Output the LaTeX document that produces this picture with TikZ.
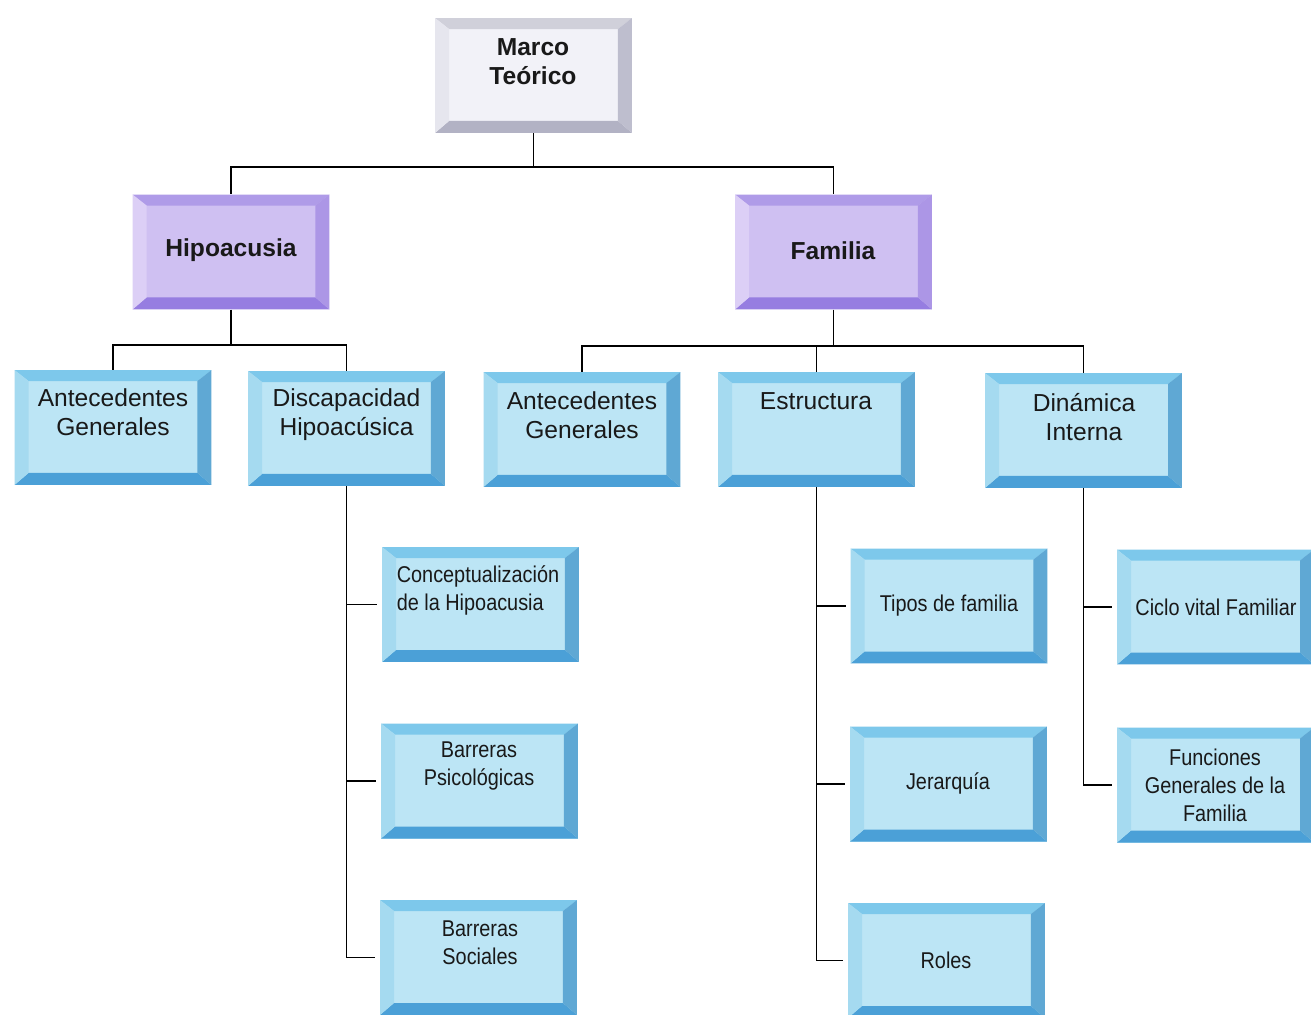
\documentclass[tikz,border=0pt]{standalone}
\usepackage{fontspec}
\setmainfont{Liberation Sans}
\newfontfamily\narrowfont[FakeStretch=0.87]{Liberation Sans}
\usetikzlibrary{calc}
\definecolor{cface}{RGB}{188,229,245}
\definecolor{ctop}{RGB}{125,200,235}
\definecolor{cbot}{RGB}{75,160,215}
\definecolor{cleft}{RGB}{165,218,240}
\definecolor{cright}{RGB}{95,168,212}
\definecolor{pface}{RGB}{207,192,242}
\definecolor{ptop}{RGB}{175,155,232}
\definecolor{pbot}{RGB}{150,125,225}
\definecolor{pleft}{RGB}{220,207,246}
\definecolor{pright}{RGB}{172,150,230}
\definecolor{gface}{RGB}{242,242,248}
\definecolor{gtop}{RGB}{208,208,218}
\definecolor{gbot}{RGB}{178,178,196}
\definecolor{gleft}{RGB}{230,230,238}
\definecolor{gright}{RGB}{190,190,206}
\newcommand\bevelfill[4]{%
  \coordinate (bvnw) at (path picture bounding box.north west);
  \coordinate (bvne) at (path picture bounding box.north east);
  \coordinate (bvsw) at (path picture bounding box.south west);
  \coordinate (bvse) at (path picture bounding box.south east);
  \fill[#1] (bvnw) -- (bvne) -- ($(bvne)+(-0.28cm,-0.22cm)$) -- ($(bvnw)+(0.28cm,-0.22cm)$) -- cycle;
  \fill[#2] (bvsw) -- (bvse) -- ($(bvse)+(-0.28cm,0.24cm)$) -- ($(bvsw)+(0.28cm,0.24cm)$) -- cycle;
  \fill[#3] (bvnw) -- ($(bvnw)+(0.28cm,-0.22cm)$) -- ($(bvsw)+(0.28cm,0.24cm)$) -- (bvsw) -- cycle;
  \fill[#4] (bvne) -- ($(bvne)+(-0.28cm,-0.22cm)$) -- ($(bvse)+(-0.28cm,0.24cm)$) -- (bvse) -- cycle;
}
\tikzset{
  bx/.style={rectangle, inner sep=0pt, minimum width=3.94cm, minimum height=2.3cm},
  cbox/.style={bx, fill=cface, path picture={\bevelfill{ctop}{cbot}{cleft}{cright}}},
  pbox/.style={bx, fill=pface, path picture={\bevelfill{ptop}{pbot}{pleft}{pright}}},
  gbox/.style={bx, fill=gface, path picture={\bevelfill{gtop}{gbot}{gleft}{gright}}},
  txt/.style={inner sep=0pt, align=center, text=black!90, font=\fontsize{14}{16.5}\selectfont},
  btxt/.style={txt, font=\fontsize{14}{16.5}\selectfont\bfseries},
  ntxt/.style={inner sep=0pt, align=center, text=black!90, font=\narrowfont\fontsize{13}{15.9}\selectfont},
  conn/.style={draw=black, line width=1.1pt},
  tick/.style={conn, shorten >=0.09cm},
}
\begin{document}
\begin{tikzpicture}[x=0.02cm,y=-0.02cm]
\useasboundingbox[fill=white] (0,0) rectangle (1311,1014);
% boxes
\node[gbox] (mt) at (533.5,75.5) {};
\node[btxt] (mtt) at (533,61.5) {Marco\\Teórico};
\node[pbox] (hip) at (231,252) {};
\node[btxt] (hipt) at (231,250) {Hipoacusia};
\node[pbox] (fam) at (833.5,252) {};
\node[btxt] (famt) at (833,251) {Familia};
\node[cbox] (ag1) at (113,427.5) {};
\node[txt] (ag1t) at (113,412) {Antecedentes\\Generales};
\node[cbox] (dis) at (346.5,428.5) {};
\node[txt] (dist) at (346.5,415) {Discapacidad\\Hipoacúsica};
\node[cbox] (ag2) at (582,429.5) {};
\node[txt] (ag2t) at (582,415.5) {Antecedentes\\Generales};
\node[cbox] (est) at (816.5,429.5) {};
\node[txt] (estt) at (816,401) {Estructura};
\node[cbox] (din) at (1083.5,430.5) {};
\node[txt] (dint) at (1084,417) {Dinámica\\Interna};
\node[cbox] (con) at (480.5,604.5) {};
\node[ntxt, align=left] (cont) at (478,590) {Conceptualización\\de la Hipoacusia};
\node[cbox] (bp) at (479.5,781) {};
\node[ntxt] (bpt) at (479,766) {Barreras\\Psicológicas};
\node[cbox] (bs) at (478.5,957.5) {};
\node[ntxt] (bst) at (480,943) {Barreras\\Sociales};
\node[cbox] (tf) at (949,606) {};
\node[ntxt] (tft) at (949,606) {Tipos de familia};
\node[cbox] (jer) at (948.5,784) {};
\node[ntxt] (jert) at (948,783) {Jerarquía};
\node[cbox] (rol) at (946.5,960.5) {};
\node[ntxt] (rolt) at (946,960) {Roles};
\node[cbox] (cv) at (1215.5,607) {};
\node[ntxt] (cvt) at (1216,607) {Ciclo vital Familiar};
\node[cbox] (fg) at (1215.5,785) {};
\node[ntxt] (fgt) at (1215,785) {Funciones\\Generales de la\\Familia};
% connectors
\draw[conn] (mt.south) -- ++(0,34) -| (hip.north);
\draw[conn] (mt.south) -- ++(0,34) -| (fam.north);
\draw[conn] (hip.south) -- ++(0,35) -| (ag1.north);
\draw[conn] (hip.south) -- ++(0,35) -| (dis.north);
\draw[conn] (fam.south) -- ++(0,36) -| (ag2.north);
\draw[conn] (fam.south) -- ++(0,36) -| (est.north);
\draw[conn] (fam.south) -- ++(0,36) -| (din.north);
\draw[tick] (dis.south) |- (con.west);
\draw[tick] (dis.south) |- (bp.west);
\draw[tick] (dis.south) |- (bs.west);
\draw[tick] (est.south) |- (tf.west);
\draw[tick] (est.south) |- (jer.west);
\draw[tick] (est.south) |- (rol.west);
\draw[tick] (din.south) |- (cv.west);
\draw[tick] (din.south) |- (fg.west);
\end{tikzpicture}
\end{document}
